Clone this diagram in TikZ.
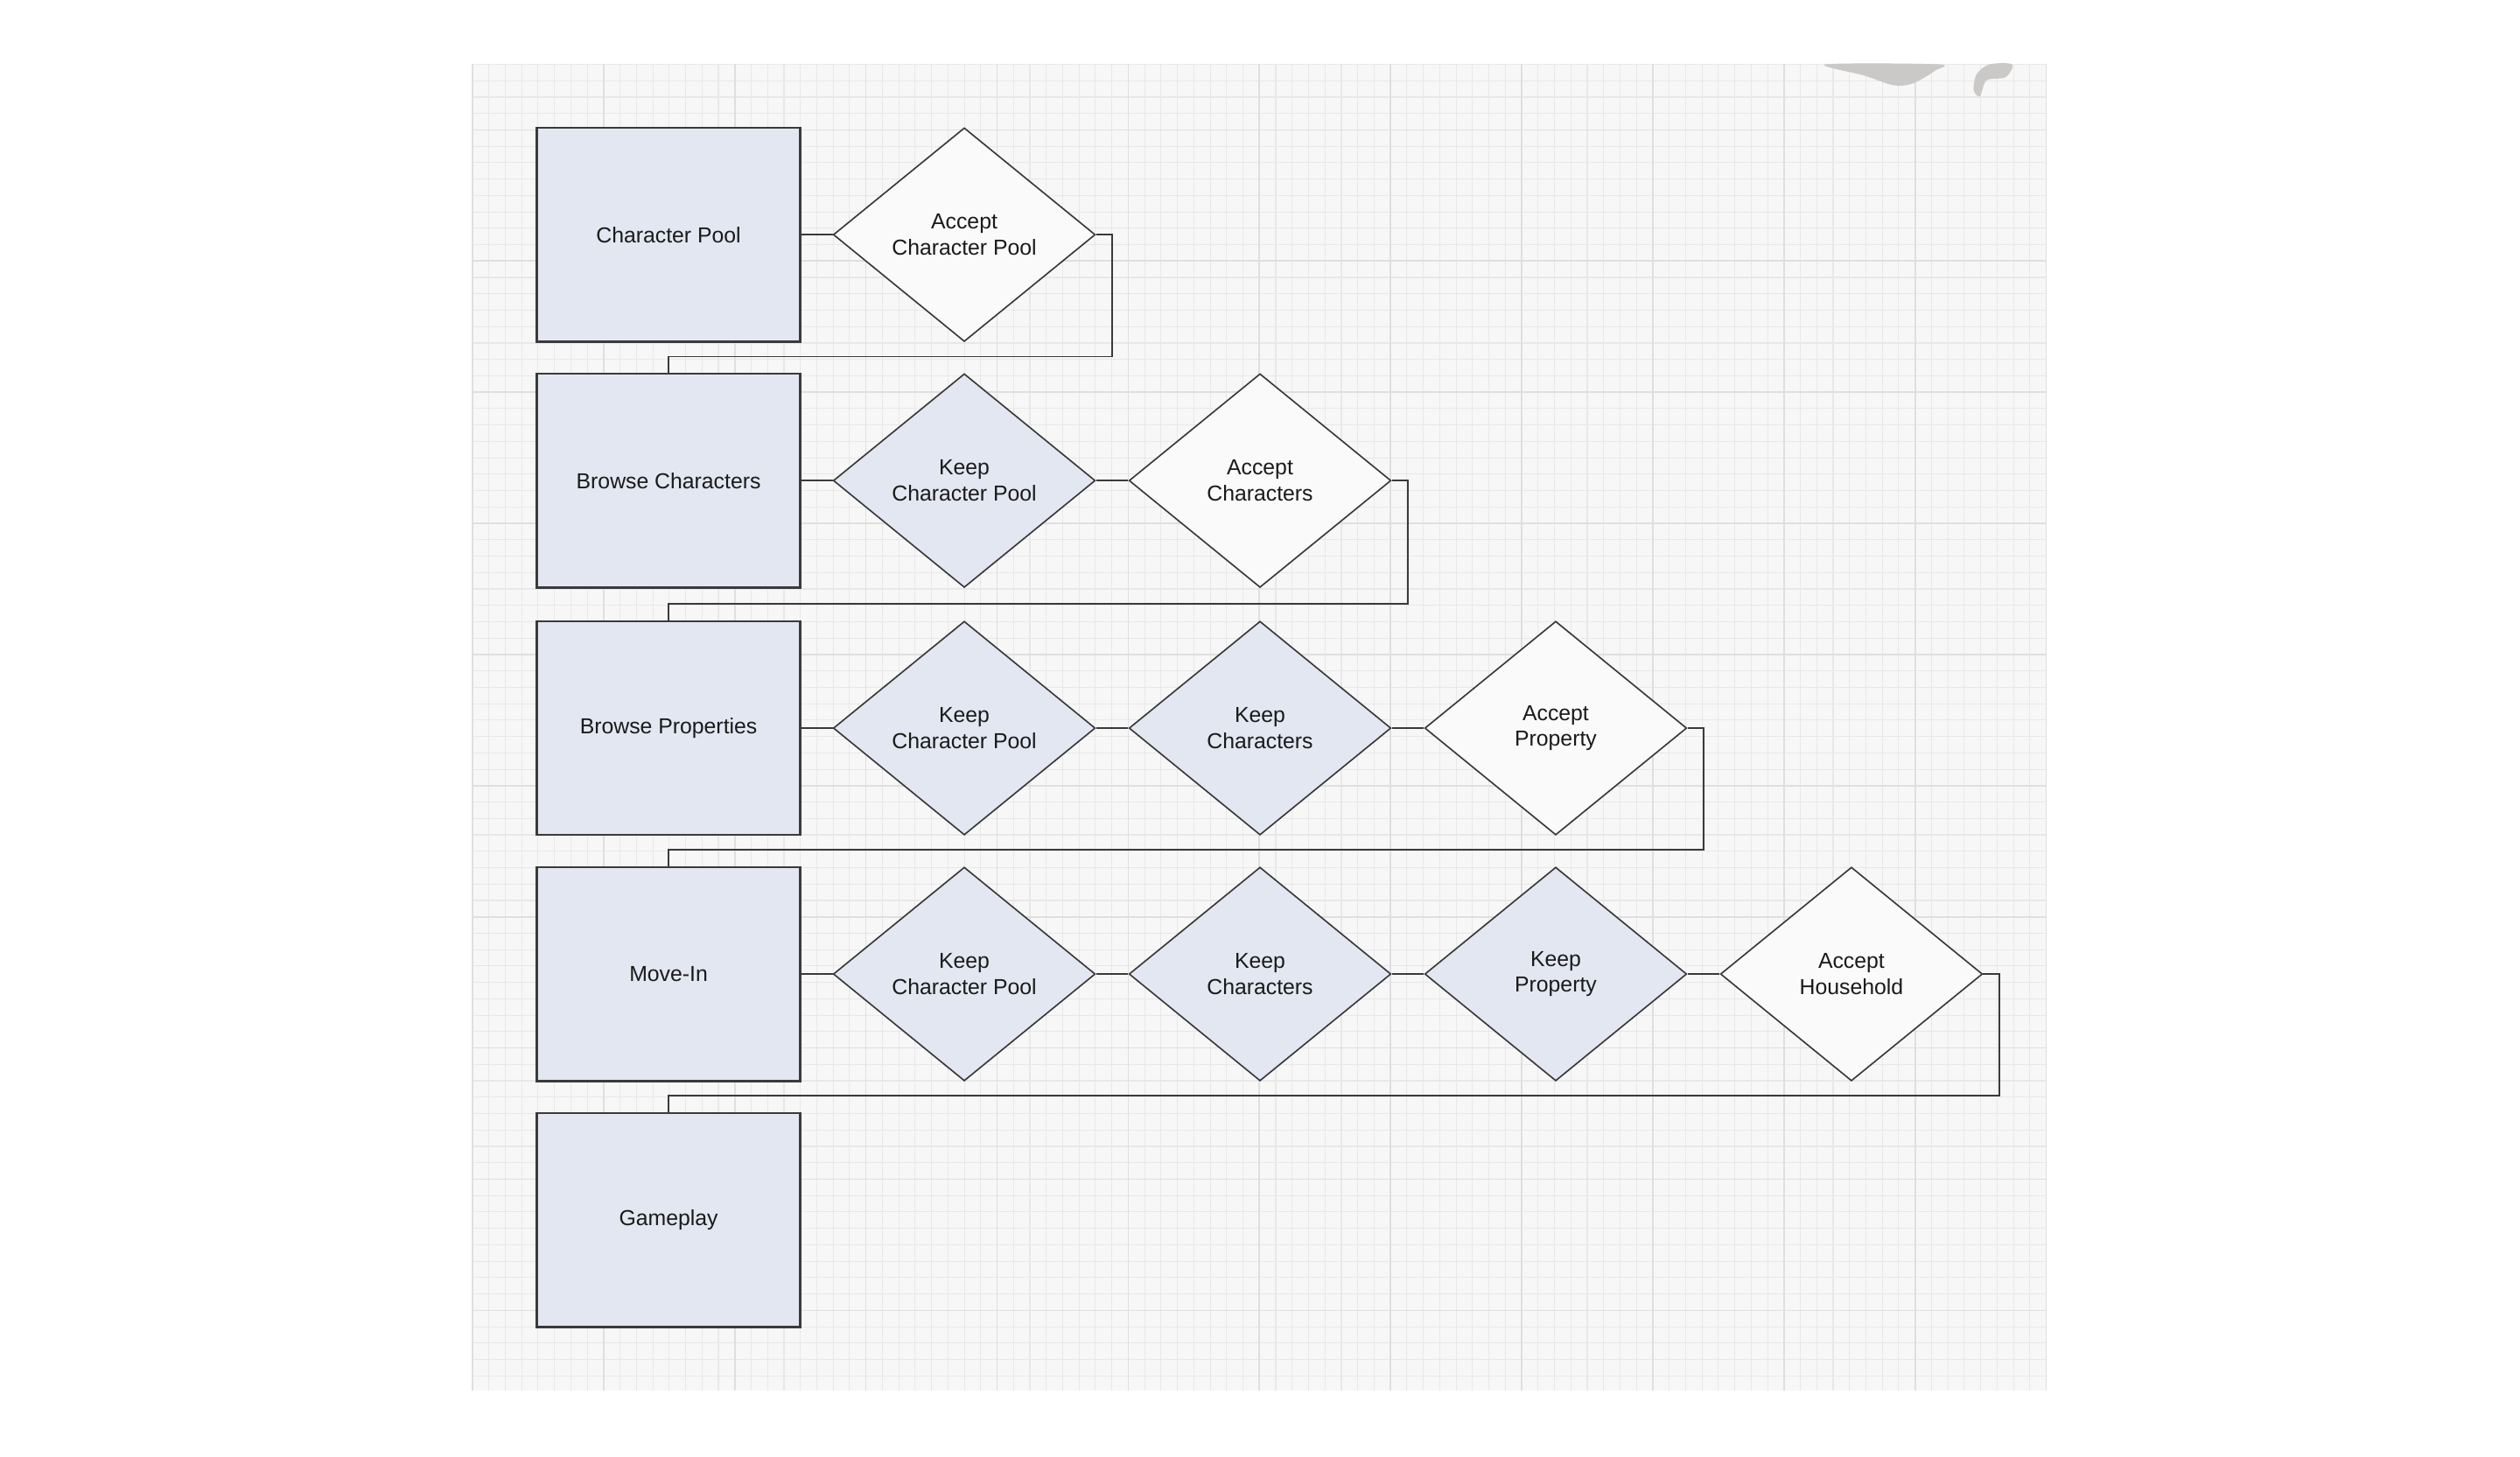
\documentclass[tikz,border=0pt]{standalone}
\usepackage{fontspec}
\setmainfont{Liberation Sans}
\usetikzlibrary{shapes.geometric, positioning}

\definecolor{paper}{HTML}{F7F7F7}
\definecolor{gridminor}{HTML}{E8E8E8}
\definecolor{gridmajor}{HTML}{DFDFDF}
\definecolor{stagefill}{HTML}{E3E7F1}
\definecolor{acceptfill}{HTML}{FAFAFA}
\definecolor{linegray}{HTML}{3A3A3A}
\definecolor{textgray}{HTML}{1A1A1A}
\definecolor{stain}{HTML}{CBC9C7}

\begin{document}
\begin{tikzpicture}[
  x=1pt, y=-1pt,
  stage/.style={draw=linegray, line width=1.4pt, fill=stagefill, minimum width=164pt, minimum height=133pt, align=center, text=textgray, font=\fontsize{13.5}{16}\selectfont},
  choice/.style={draw=linegray, line width=0.9pt, diamond, aspect=1.23, minimum width=163pt, minimum height=133pt, inner sep=0pt, align=center, text=textgray, font=\fontsize{13.5}{16}\selectfont},
  keep/.style={choice, fill=stagefill},
  accept/.style={choice, fill=acceptfill},
  link/.style={draw=linegray, line width=0.9pt}
]
\useasboundingbox (0,0) rectangle (1568,906);

% graph paper
\fill[paper] (294,40) rectangle (1273,865);
\foreach \i in {0,...,96} \draw[gridminor, line width=0.6pt] ({294+\i*10.2},40) -- ({294+\i*10.2},865);
\foreach \i in {0,...,80} \draw[gridminor, line width=0.6pt] (294,{40+\i*10.2}) -- (1273,{40+\i*10.2});
\foreach \i in {0,8,...,96} \draw[gridmajor, line width=0.9pt] ({294+\i*10.2},40) -- ({294+\i*10.2},865);
\foreach \i in {4,12,...,80} \draw[gridmajor, line width=0.9pt] (294,{40+\i*10.2}) -- (1273,{40+\i*10.2});
\fill[stain] plot[smooth cycle] coordinates {(1136,40) (1160,47) (1178,53) (1190,52) (1204,44) (1206,40)};
\fill[stain] plot[smooth cycle] coordinates {(1238,40) (1252,40) (1248,48) (1236,50) (1232,60) (1228,56) (1230,46)};

% stages
\node[stage] (pool) at (416,146) {Character Pool};
\node[stage] (chars) at (416,299) {Browse Characters};
\node[stage] (props) at (416,453) {Browse Properties};
\node[stage] (movein) at (416,606) {Move-In};
\node[stage] (game) at (416,759) {Gameplay};

% row 1
\node[accept] (acpool) at (600,146) {Accept\\Character Pool};

% row 2
\node[keep] (kpool2) at (600,299) {Keep\\Character Pool};
\node[accept] (acchars) at (784,299) {Accept\\Characters};

% row 3
\node[keep] (kpool3) at (600,453) {Keep\\Character Pool};
\node[keep] (kchars3) at (784,453) {Keep\\Characters};
\node[accept] (acprop) at (968,453) {Accept\\Property};

% row 4
\node[keep] (kpool4) at (600,606) {Keep\\Character Pool};
\node[keep] (kchars4) at (784,606) {Keep\\Characters};
\node[keep] (kprop4) at (968,606) {Keep\\Property};
\node[accept] (achouse) at (1152,606) {Accept\\Household};

\draw[link] (pool) -- (acpool);
\draw[link] (acpool.east) -- ++(10,0) |- ([yshift=10pt]chars.north) -- (chars.north);

\draw[link] (chars) -- (kpool2);
\draw[link] (kpool2) -- (acchars);
\draw[link] (acchars.east) -- ++(10,0) |- ([yshift=10pt]props.north) -- (props.north);

\draw[link] (props) -- (kpool3);
\draw[link] (kpool3) -- (kchars3);
\draw[link] (kchars3) -- (acprop);
\draw[link] (acprop.east) -- ++(10,0) |- ([yshift=10pt]movein.north) -- (movein.north);

\draw[link] (movein) -- (kpool4);
\draw[link] (kpool4) -- (kchars4);
\draw[link] (kchars4) -- (kprop4);
\draw[link] (kprop4) -- (achouse);
\draw[link] (achouse.east) -- ++(10,0) |- ([yshift=10pt]game.north) -- (game.north);

\end{tikzpicture}
\end{document}
